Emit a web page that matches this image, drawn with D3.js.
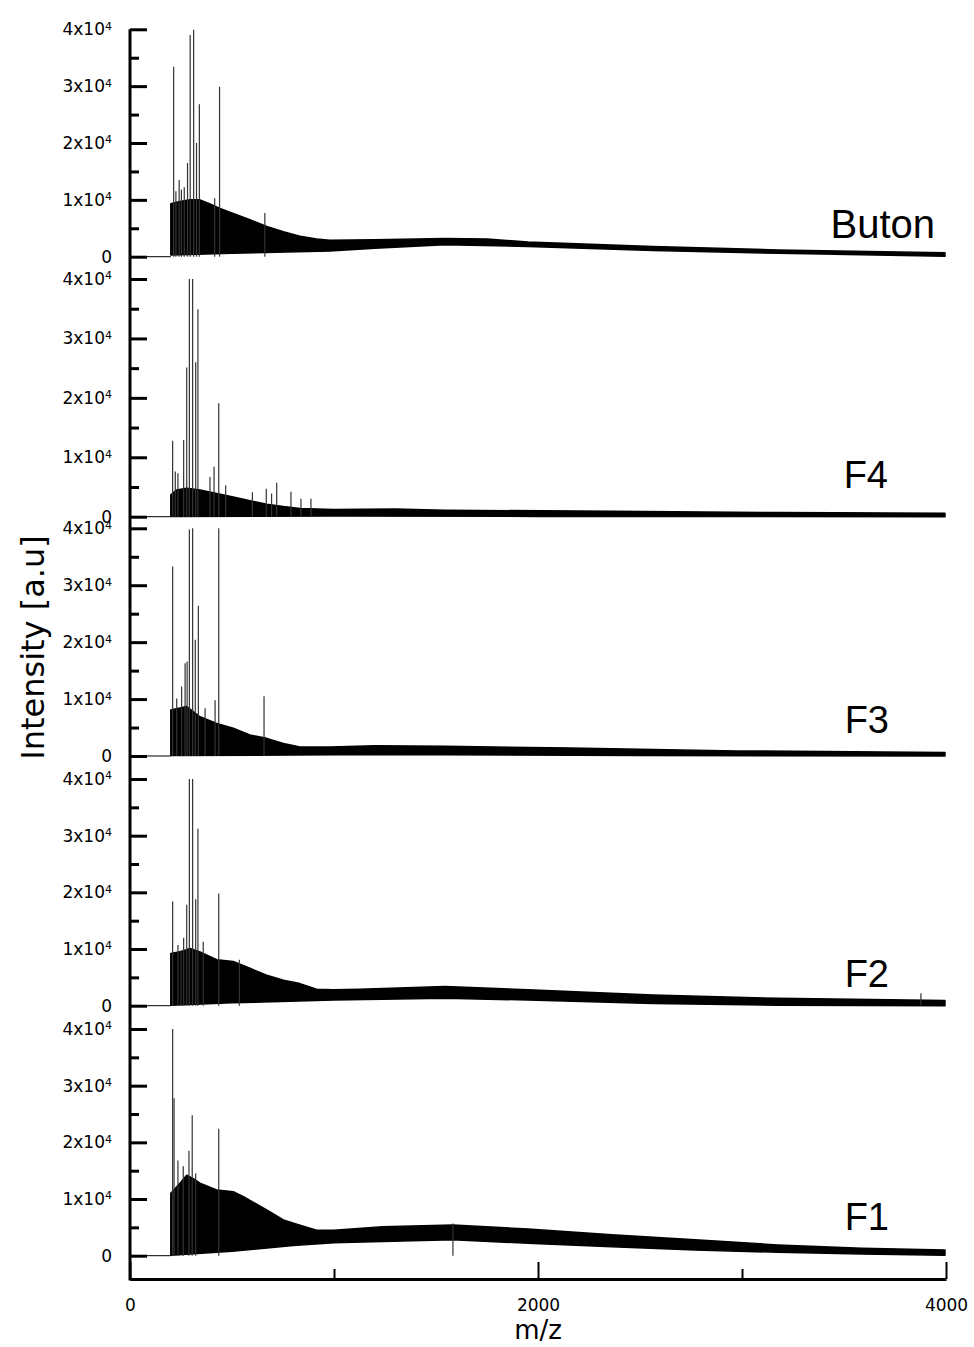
<!DOCTYPE html>
<html>
<head>
<meta charset="utf-8">
<script src="https://cdn.jsdelivr.net/npm/d3@7"></script>
<style>
  body { margin: 0; background: white; }
</style>
</head>
<body>
<div id="chart"></div>
<script>
// Sample names, top to bottom
const samples = ["Buton", "F4", "F3", "F2", "F1"];

// Envelopes of the dense spectrum, [m/z, intensity]
const butonUpper = [[200, 9300], [245, 9700], [294, 10000], [343, 10000], [392, 9300], [441, 8500], [506, 7600], [588, 6500], [670, 5300], [752, 4400], [833, 3600], [915, 3100], [980, 2900], [1200, 3000], [1544, 3200], [1750, 3100], [1951, 2600], [2564, 1800], [3176, 1200], [3995, 700]];
const butonLower = [[200, 300], [500, 600], [980, 1000], [1200, 1500], [1544, 2100], [1951, 1800], [2564, 1100], [3176, 600], [3995, 100]];
const f4Upper = [[200, 3700], [229, 4500], [278, 4800], [343, 4500], [425, 3900], [506, 3300], [588, 2700], [670, 2100], [752, 1700], [833, 1400], [997, 1200], [1300, 1300], [1544, 1100], [2362, 900], [3176, 700], [3995, 600]];
const f4Lower = [[200, 50], [1000, 100], [2000, 50], [3995, 0]];
const f3Upper = [[200, 8100], [278, 8700], [343, 6900], [425, 5700], [506, 4900], [588, 3700], [670, 3100], [752, 2200], [833, 1600], [980, 1600], [1200, 1800], [1544, 1700], [2157, 1400], [2975, 900], [3995, 600]];
const f3Lower = [[200, 100], [1000, 200], [1544, 200], [2500, 100], [3995, 0]];
const f2Upper = [[200, 9200], [245, 9500], [294, 10100], [343, 9500], [425, 8100], [506, 7800], [588, 6600], [670, 5400], [752, 4500], [833, 3900], [915, 2900], [997, 2800], [1127, 2900], [1544, 3400], [1951, 2800], [2564, 1900], [3176, 1300], [3995, 900]];
const f2Lower = [[200, 100], [500, 500], [1000, 1000], [1544, 1300], [1951, 1000], [2564, 400], [3176, 100], [3995, 0]];
const f1Upper = [[200, 11000], [245, 12800], [278, 14200], [310, 13600], [343, 12800], [425, 11600], [506, 11300], [556, 10400], [670, 8100], [752, 6300], [833, 5400], [915, 4500], [1000, 4500], [1238, 5100], [1583, 5400], [1951, 4700], [2362, 3700], [2770, 2800], [3176, 1900], [3588, 1300], [3995, 1000]];
const f1Lower = [[200, 100], [500, 800], [800, 1800], [1000, 2300], [1238, 2500], [1583, 2800], [1951, 2200], [2362, 1600], [2770, 1000], [3176, 600], [3588, 300], [3995, 100]];

// Single peaks standing above the envelope, [m/z, intensity]
const butonPeaks = [[214, 33400], [225, 11500], [241, 13500], [252, 11800], [266, 12200], [282, 16500], [295, 39000], [312, 39900], [326, 20000], [340, 26800], [415, 10300], [439, 29900], [661, 7700]];
const f4Peaks = [[209, 12800], [222, 7600], [235, 7300], [263, 12900], [278, 25100], [291, 40000], [307, 40000], [322, 26000], [333, 34900], [392, 6700], [412, 8400], [435, 19100], [469, 5300], [600, 4100], [668, 4700], [694, 3900], [719, 5700], [789, 4200], [838, 3000], [887, 3000]];
const f3Peaks = [[209, 33300], [229, 10100], [253, 12200], [270, 16300], [280, 16600], [291, 39800], [307, 40000], [320, 20400], [335, 26400], [368, 8400], [417, 9800], [435, 40000], [657, 10500]];
const f2Peaks = [[209, 18400], [235, 10700], [250, 9800], [263, 12000], [278, 17800], [291, 40000], [307, 40000], [322, 18800], [333, 31200], [359, 11300], [435, 19800], [536, 8100], [3877, 2200]];
const f1Peaks = [[209, 40000], [216, 27800], [235, 16800], [261, 15800], [289, 18500], [305, 24800], [322, 14500], [435, 22400], [1583, 5700]];

// Axis ticks
const yMajor = [0, 10000, 20000, 30000, 40000];
const yMinor = [5000, 15000, 25000, 35000];
const xMajor = [0, 2000, 4000];
const xMinor = [1000, 3000];

const spectra = {
    Buton: { upper: butonUpper, lower: butonLower, peaks: butonPeaks },
    F4: { upper: f4Upper, lower: f4Lower, peaks: f4Peaks },
    F3: { upper: f3Upper, lower: f3Lower, peaks: f3Peaks },
    F2: { upper: f2Upper, lower: f2Lower, peaks: f2Peaks },
    F1: { upper: f1Upper, lower: f1Lower, peaks: f1Peaks }
};

// Pixel layout of each panel: [y of 0, y of 4x10^4], and label baseline
const layout = {
    Buton: { zero: 256.7, top: 29.3, labelY: 238, labelX: 935, size: 40 },
    F4: { zero: 516.7, top: 279, labelY: 488, labelX: 888, size: 38 },
    F3: { zero: 756, top: 528.3, labelY: 733, labelX: 889, size: 38 },
    F2: { zero: 1005.7, top: 779, labelY: 987, labelX: 889, size: 38 },
    F1: { zero: 1255.7, top: 1029, labelY: 1230, labelX: 889, size: 38 }
};

let width = 974, height = 1347;
let axisY = 1279;

let svg = d3.select("#chart")
    .append("svg")
    .attr("width", width)
    .attr("height", height)
    .style("background", "white");

let x = d3.scaleLinear()
    .domain([0, 4000])
    .range([130, 946]);

samples.forEach(function(name) {
    const L = layout[name];
    const s = spectra[name];

    let y = d3.scaleLinear()
        .domain([0, 40000])
        .range([L.zero, L.top]);

    let line = d3.line()
        .x(d => x(d[0]))
        .y(d => y(d[1]));

    // flat baseline before the spectrum starts
    svg.append("line")
        .attr("x1", x(0))
        .attr("x2", x(s.upper[0][0]))
        .attr("y1", y(0))
        .attr("y2", y(0))
        .attr("stroke", "black")
        .attr("stroke-width", 1);

    // dense part: polygon between the upper and lower envelope
    const outline = s.upper.concat(s.lower.slice().reverse());
    svg.append("path")
        .attr("d", line(outline) + "Z")
        .attr("fill", "black")
        .attr("stroke", "black")
        .attr("stroke-width", 1.5)
        .attr("stroke-linejoin", "round");

    // single peaks
    svg.append("g")
        .selectAll("line")
        .data(s.peaks)
        .enter()
        .append("line")
        .attr("x1", d => x(d[0]))
        .attr("x2", d => x(d[0]))
        .attr("y1", y(0))
        .attr("y2", d => y(d[1]))
        .attr("stroke", "#333")
        .attr("stroke-width", 1.2);

    // y axis ticks, pointing inward
    let yAxis = svg.append("g")
        .attr("transform", `translate(${x(0)},0)`)
        .call(d3.axisLeft(y).tickValues(yMajor).tickSize(-17).tickSizeOuter(0).tickPadding(18))
        .call(g => g.select(".domain").remove());

    yAxis.selectAll("line").attr("stroke-width", 3);
    yAxis.selectAll(".tick text")
        .style("font-family", "'DejaVu Sans', sans-serif")
        .style("font-size", "17px")
        .attr("fill", "black")
        .each(function(d) {
            const t = d3.select(this).text(null);
            if (d === 0) {
                t.text("0");
            } else {
                t.append("tspan").text(`${d / 10000}x10`);
                t.append("tspan")
                    .attr("dy", "-0.5em")
                    .style("font-size", "11px")
                    .text("4");
            }
        });

    let yMinorAxis = svg.append("g")
        .attr("transform", `translate(${x(0)},0)`)
        .call(d3.axisLeft(y).tickValues(yMinor).tickSize(-9).tickSizeOuter(0).tickFormat(""))
        .call(g => g.select(".domain").remove());
    yMinorAxis.selectAll("line").attr("stroke-width", 3);

    // sample label
    svg.append("text")
        .attr("x", L.labelX)
        .attr("y", L.labelY)
        .attr("text-anchor", "end")
        .style("font-family", "'Liberation Sans', Arial, sans-serif")
        .style("font-size", L.size + "px")
        .text(name);
});

// continuous left axis line through all panels
svg.append("line")
    .attr("x1", x(0))
    .attr("x2", x(0))
    .attr("y1", layout.Buton.top)
    .attr("y2", axisY + 1.5)
    .attr("stroke", "black")
    .attr("stroke-width", 3);

// x axis
let xAxis = svg.append("g")
    .attr("transform", `translate(0,${axisY})`)
    .call(d3.axisBottom(x).tickValues(xMajor).tickSize(-17).tickSizeOuter(0).tickPadding(20).tickFormat(d3.format("d")));

xAxis.select(".domain").attr("stroke-width", 3);
xAxis.selectAll("line").attr("stroke-width", 2);
xAxis.selectAll("text")
    .style("font-family", "'DejaVu Sans', sans-serif")
    .style("font-size", "17px")
    .attr("fill", "black");

let xMinorAxis = svg.append("g")
    .attr("transform", `translate(0,${axisY})`)
    .call(d3.axisBottom(x).tickValues(xMinor).tickSize(-10).tickSizeOuter(0).tickFormat(""))
    .call(g => g.select(".domain").remove());
xMinorAxis.selectAll("line").attr("stroke-width", 2);

// x-axis label
svg.append("text")
    .attr("x", x(2000))
    .attr("y", 1339)
    .attr("text-anchor", "middle")
    .style("font-family", "'DejaVu Sans', sans-serif")
    .style("font-size", "26px")
    .text("m/z");

// y-axis label
svg.append("text")
    .attr("transform", "translate(44,647.5) rotate(-90)")
    .attr("text-anchor", "middle")
    .style("font-family", "'DejaVu Sans', sans-serif")
    .style("font-size", "32px")
    .text("Intensity [a.u]");
</script>
</body>
</html>
